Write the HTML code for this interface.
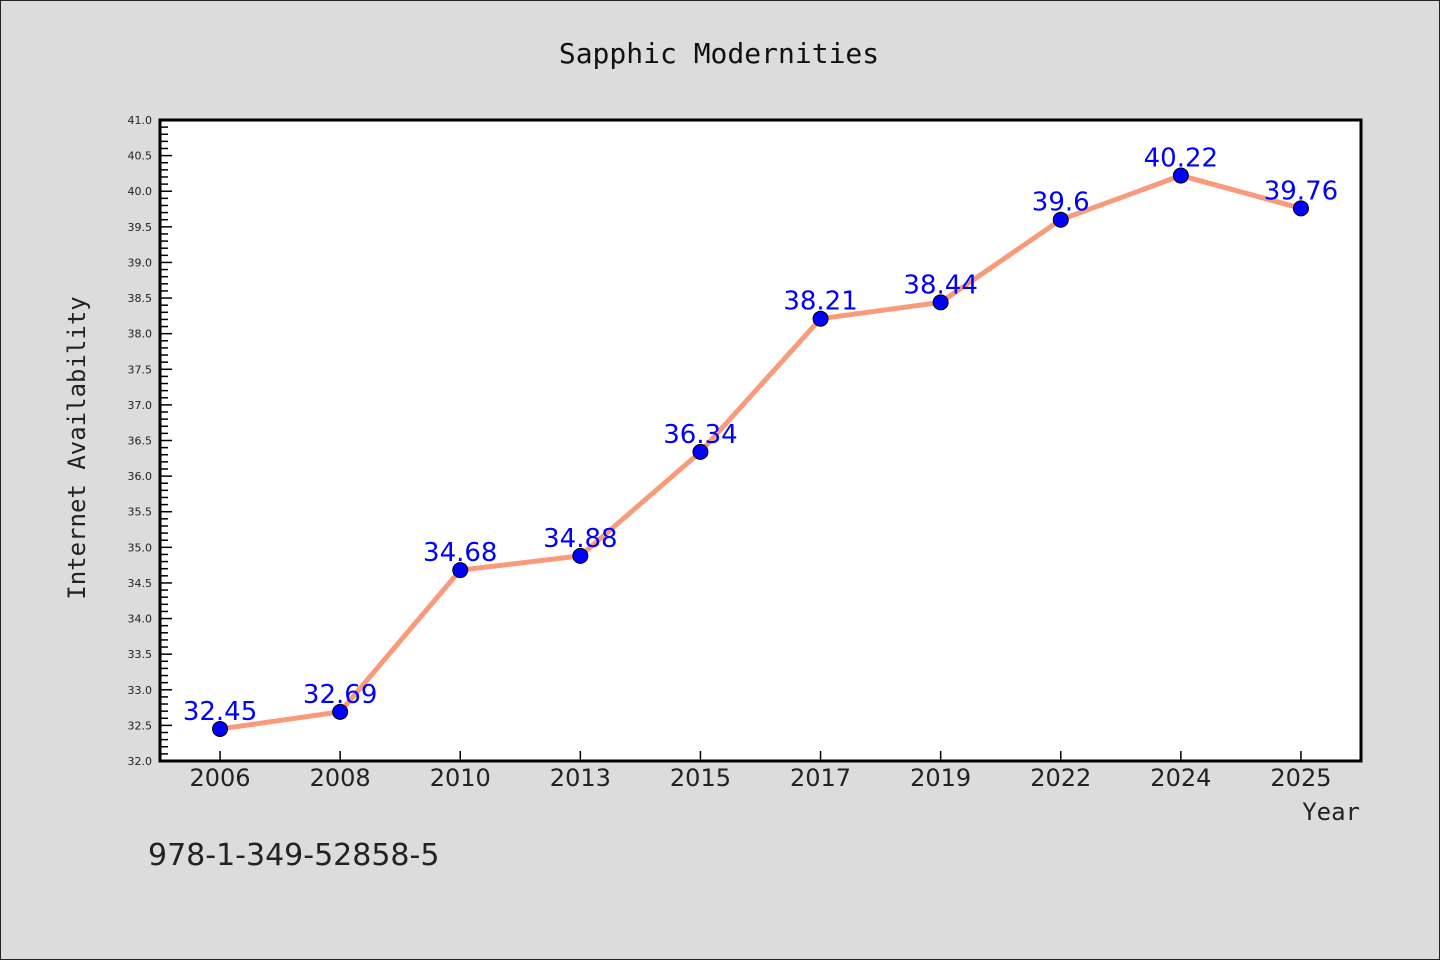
<!DOCTYPE html>
<html><head><meta charset="utf-8"><style>
html,body{margin:0;padding:0;background:#dcdcdc;}
svg{display:block;font-family:"DejaVu Sans","Liberation Sans",sans-serif;}
</style></head><body>
<svg id="c" width="1440" height="960">
<rect x="0.5" y="0.5" width="1439" height="959" fill="#dcdcdc" stroke="#222"/>
<text x="719" y="63" text-anchor="middle" font-size="28" font-family="DejaVu Sans Mono, Liberation Mono, monospace" fill="#111">Sapphic Modernities</text>
<rect x="160" y="120" width="1201" height="641" fill="#fff"/>
<g id="ticks"></g>
<g id="marks"></g>
<rect x="160" y="120" width="1201" height="641" fill="none" stroke="#000" stroke-width="3"/>
<text transform="translate(85,448) rotate(-90)" text-anchor="middle" font-size="24" font-family="DejaVu Sans Mono, Liberation Mono, monospace" fill="#222">Internet Availability</text>
<text x="1360" y="820" text-anchor="end" font-size="24" font-family="DejaVu Sans Mono, Liberation Mono, monospace" fill="#222">Year</text>
<text x="148" y="865" font-size="30" fill="#222">978-1-349-52858-5</text>
</svg>
<script>
const categories=["2006","2008","2010","2013","2015","2017","2019","2022","2024","2025"];
const values=[32.45,32.69,34.68,34.88,36.34,38.21,38.44,39.6,40.22,39.76];
const labels=["32.45","32.69","34.68","34.88","36.34","38.21","38.44","39.6","40.22","39.76"];
const yMin=32,yMax=41;
const NS="http://www.w3.org/2000/svg";
const L=160,R=1361,T=120,B=761;
const band=(R-L)/categories.length;
function x(i){return L+band*(i+0.5);}
function y(v){return B-(v-yMin)/(yMax-yMin)*(B-T);}
function mk(t,a,p){const e=document.createElementNS(NS,t);for(const k in a)e.setAttribute(k,a[k]);p.appendChild(e);return e;}
const tg=document.getElementById('ticks'),mg=document.getElementById('marks');
for(let k=0;k<=90;k++){const v=yMin+k*0.1;const major=k%5===0;
 const t=mk('line',{x1:L,x2:L+(major?12:8),y1:y(v),y2:y(v),stroke:'#000','stroke-width':1.5},tg);
 
 
 if(major){const tx=mk('text',{x:L-8,y:y(v)+4,'text-anchor':'end','font-size':11,fill:'#222'},tg);tx.textContent=v.toFixed(1);
 
 }}
categories.forEach((c,i)=>{const t=mk('line',{x1:x(i),x2:x(i),y1:B,y2:B-10,stroke:'#000','stroke-width':1.5},tg);
 
 
 const tx=mk('text',{x:x(i),y:B+25,'text-anchor':'middle','font-size':24,fill:'#222'},tg);tx.textContent=c;
 
 });
const pl=mk('polyline',{points:values.map((v,i)=>x(i)+','+y(v)).join(' '),fill:'none',stroke:'#f99b7b','stroke-width':5},mg);


values.forEach((v,i)=>{const c=mk('circle',{cx:x(i),cy:y(v),r:7.5,fill:'#0000ff',stroke:'#000','stroke-width':1},mg);
 
 
 const t=mk('text',{x:x(i),y:y(v)-9,'text-anchor':'middle','font-size':26,fill:'#0000ff'},mg);t.textContent=labels[i];
 
 });
</script>
</body></html>
